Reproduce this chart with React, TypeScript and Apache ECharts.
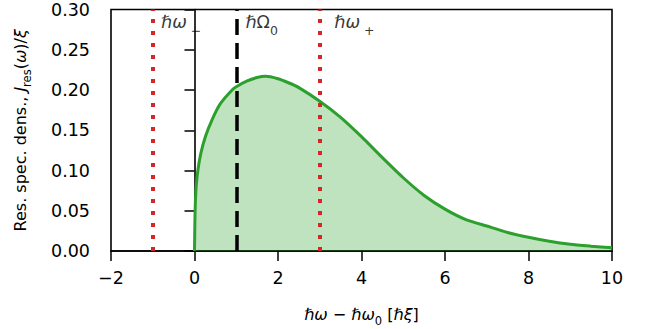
import React, { useEffect, useRef } from "react";
import * as echarts from "echarts";

// Resonant spectral density curve
const xs = [0, 0.01, 0.02, 0.04, 0.08, 0.15, 0.26, 0.42, 0.62, 0.9, 1.0, 1.25, 1.5, 1.7, 2.0, 2.25, 2.5, 3.0, 3.5, 4.0, 4.5, 5.0, 5.5, 6.0, 6.5, 7.0, 7.5, 8.0, 8.5, 9.0, 9.5, 10];
const ys = [0, 0.0385, 0.059, 0.08, 0.1, 0.121, 0.142, 0.163, 0.183, 0.2, 0.204, 0.211, 0.2155, 0.217, 0.214, 0.209, 0.203, 0.186, 0.166, 0.142, 0.116, 0.091, 0.069, 0.052, 0.039, 0.031, 0.023, 0.017, 0.012, 0.0083, 0.006, 0.004];

// vertical marker lines
const omegaMinus = -1;
const omegaZero = 1;
const omegaPlus = 3;

// marker labels
const labelX = [-0.8, 1.22, 3.35];
const labelY = 0.284;
const labelTexts = ["{m|ℏω}{s| −}", "{n|ℏΩ}{s|0}", "{m|ℏω}{s| +}"];

const xTicks = { min: -2, max: 10, interval: 2 };
const yTicks = { min: 0, max: 0.3, interval: 0.05 };

const FONT = "DejaVu Sans";
const FS = 17.5;

export default function App() {
  const ref = useRef<HTMLDivElement>(null);
  useEffect(() => {
    if (!ref.current) return;
    const chart = echarts.init(ref.current, undefined, { renderer: "svg" });
    const curve = xs.map((x, i) => [x, ys[i]]);
    const richLbl = {
      m: { fontFamily: FONT, fontSize: FS, fontStyle: "italic", color: "#000", lineHeight: 30 },
      n: { fontFamily: FONT, fontSize: FS, color: "#000", lineHeight: 30 },
      s: { fontFamily: FONT, fontSize: 12.5, color: "#000", lineHeight: 13, verticalAlign: "bottom" },
    };
    const nameRich = {
      i: { fontFamily: FONT, fontSize: 16, fontStyle: "italic", color: "#000", lineHeight: 26 },
      s: { fontFamily: FONT, fontSize: 11.5, color: "#000", lineHeight: 11, verticalAlign: "bottom" },
    };
    chart.setOption({
      animation: false,
      grid: {
        left: 111,
        right: 37,
        top: 9.5,
        bottom: 78,
        outerBoundsMode: "none",
        containLabel: false,
        show: true,
        borderColor: "#000",
        borderWidth: 1.6,
        backgroundColor: "transparent",
      },
      xAxis: {
        type: "value",
        min: xTicks.min,
        max: xTicks.max,
        interval: xTicks.interval,
        name: "{i|ℏω} − {i|ℏω}{s|0} [{i|ℏξ}]",
        nameLocation: "middle",
        nameGap: 50,
        nameTextStyle: { fontFamily: FONT, fontSize: 16, color: "#000", rich: nameRich },
        axisLine: { onZero: false, lineStyle: { color: "#000", width: 1.6 } },
        axisTick: { show: true, length: 10, lineStyle: { color: "#000", width: 1.5 } },
        axisLabel: {
          fontFamily: FONT,
          fontSize: FS,
          color: "#000",
          margin: 18,
          formatter: (v: number) => (v < 0 ? "−" + Math.abs(v) : String(v)),
        },
        splitLine: { show: false },
      },
      yAxis: {
        type: "value",
        min: yTicks.min,
        max: yTicks.max,
        interval: yTicks.interval,
        name: "Res. spec. dens., {i|J}{s|res}({i|ω})/{i|ξ}",
        nameLocation: "middle",
        nameGap: 78,
        nameTextStyle: { fontFamily: FONT, fontSize: 16, color: "#000", rich: nameRich },
        axisLine: { show: true, lineStyle: { color: "#000", width: 1.6 } },
        axisTick: { show: true, length: 10, lineStyle: { color: "#000", width: 1.5 } },
        axisLabel: {
          fontFamily: FONT,
          fontSize: FS,
          color: "#000",
          margin: 21,
          formatter: (v: number) => v.toFixed(2),
        },
        splitLine: { show: false },
      },
      series: [
        {
          type: "line",
          data: curve,
          showSymbol: false,
          smooth: 0.2,
          lineStyle: { color: "#2ca02c", width: 3 },
          areaStyle: { color: "rgba(44,160,44,0.3)", opacity: 1, origin: "start" },
          z: 2,
          markLine: {
            silent: true,
            symbol: "none",
            label: { show: false },
            z: 3,
            data: [
              { xAxis: omegaMinus, lineStyle: { color: "#d62728", width: 4, type: [4, 8], cap: "butt" } },
              { xAxis: omegaPlus, lineStyle: { color: "#d62728", width: 4, type: [4, 8], cap: "butt" } },
              { xAxis: omegaZero, lineStyle: { color: "#000", width: 3.5, type: [16, 8], cap: "butt" } },
            ],
          },
        },
        {
          type: "scatter",
          symbolSize: 0,
          silent: true,
          data: labelX.map((x, i) => ({
            value: [x, labelY],
            label: {
              show: true,
              position: "right",
              distance: 0,
              color: "#000",
              formatter: labelTexts[i],
              rich: richLbl,
            },
          })),
          z: 5,
        },
      ],
    });
    return () => chart.dispose();
  }, []);
  return <div ref={ref} style={{ width: 649, height: 329, position: "absolute", left: 0, top: 0 }} />;
}
